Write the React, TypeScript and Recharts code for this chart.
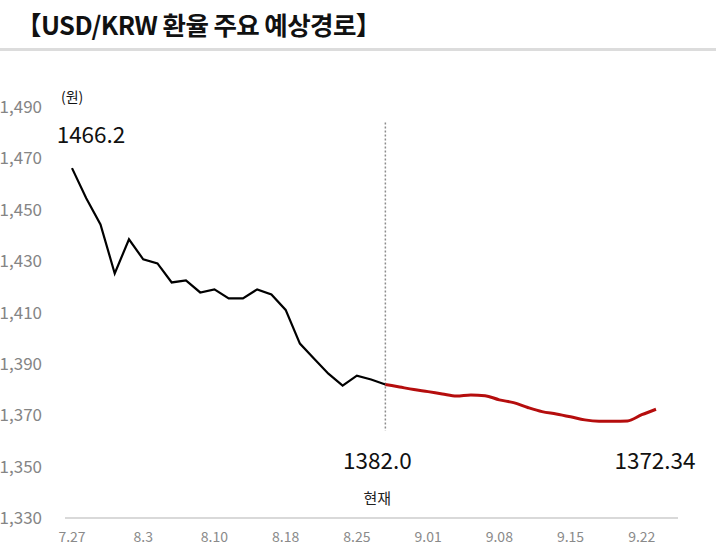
import React from "react";
import {
  LineChart,
  Line,
  XAxis,
  YAxis,
  ReferenceLine,
  ReferenceDot,
} from "recharts";

// business days, ticks every 5th
const dates = [
  "7.27", "7.28", "7.29", "7.30", "7.31",
  "8.3", "8.4", "8.5", "8.6", "8.7",
  "8.10", "8.11", "8.12", "8.13", "8.14",
  "8.18", "8.19", "8.20", "8.21", "8.22",
  "8.25", "8.26", "8.27", "8.28", "8.29",
  "9.01", "9.02", "9.03", "9.04", "9.05",
  "9.08", "9.09", "9.10", "9.11", "9.12",
  "9.15", "9.16", "9.17", "9.18", "9.19",
  "9.22", "9.23",
];
const tickDates = ["7.27", "8.3", "8.10", "8.18", "8.25", "9.01", "9.08", "9.15", "9.22"];
const yTicks = [1330, 1350, 1370, 1390, 1410, 1430, 1450, 1470, 1490];

// 실적 (7.27 ~ 현재)
const actual = [
  1466.2, 1454.5, 1444.3, 1425.2, 1438.5, 1430.7, 1429.1, 1421.7, 1422.5, 1417.8,
  1419.0, 1415.5, 1415.5, 1419.0, 1417.0, 1411.0, 1397.9, 1392.0, 1386.2, 1381.5,
  1385.4, 1383.9, 1382.0,
];
// 예상경로 (현재 ~ 9.23)
const forecast = [
  1382.0, 1381.0, 1380.0, 1379.2, 1378.3, 1377.5, 1377.9, 1377.6, 1376.0, 1374.9,
  1373.0, 1371.4, 1370.5, 1369.4, 1368.2, 1367.7, 1367.7, 1367.8, 1370.2, 1372.34,
];

const nowIndex = actual.length - 1;
const nowDate = dates[nowIndex];
const lastDate = dates[dates.length - 1];

const data = dates.map((d, i) => ({
  date: d,
  actual: i < actual.length ? actual[i] : null,
  forecast: i >= nowIndex ? forecast[i - nowIndex] : null,
}));

const FONT = "'Noto Sans CJK KR', 'Noto Sans', sans-serif";

const fmt = (v: number) => v.toLocaleString("en-US");

export default function App() {
  return (
    <div
      style={{
        position: "absolute",
        left: 0,
        top: 0,
        width: 716,
        height: 557,
        background: "#fff",
        fontFamily: FONT,
      }}
    >
      <div
        style={{
          position: "absolute",
          left: 16,
          top: 5,
          fontSize: 25.5,
          fontWeight: 700,
          letterSpacing: -0.6,
          color: "#111",
          whiteSpace: "nowrap",
        }}
      >
        【USD/KRW 환율 주요 예상경로】
      </div>
      <div
        style={{
          position: "absolute",
          left: 0,
          top: 48,
          width: 716,
          height: 3,
          background: "#dcdcdc",
        }}
      />
      <div
        style={{
          position: "absolute",
          left: 61,
          top: 86,
          fontSize: 14,
          color: "#111",
        }}
      >
        (원)
      </div>
      <LineChart
        width={716}
        height={557}
        data={data}
        margin={{ top: 107, right: 38, bottom: 9, left: 0 }}
        style={{ fontFamily: FONT }}
      >
        <XAxis
          dataKey="date"
          ticks={tickDates}
          interval={0}
          padding={{ left: 7, right: 22 }}
          tickLine={false}
          axisLine={{ stroke: "#d9d9d9", strokeWidth: 2 }}
          tick={{ fill: "#8a8a8a", fontSize: 14 }}
          tickMargin={8}
          height={30}
        />
        <YAxis
          domain={[1330, 1490]}
          ticks={yTicks}
          width={65}
          axisLine={false}
          tickLine={false}
          tickMargin={17}
          tickFormatter={fmt}
          tick={{ fill: "#858585", fontSize: 17 }}
        />
        <ReferenceLine
          segment={[
            { x: nowDate, y: 1484 },
            { x: nowDate, y: 1364 },
          ]}
          stroke="#8c8c8c"
          strokeWidth={1.5}
          strokeDasharray="2 2"
        />
        <Line
          dataKey="actual"
          type="linear"
          stroke="#000"
          strokeWidth={2.2}
          dot={false}
          connectNulls={false}
          isAnimationActive={false}
        />
        <Line
          dataKey="forecast"
          type="monotone"
          stroke="#b50d0d"
          strokeWidth={3}
          dot={false}
          connectNulls={false}
          isAnimationActive={false}
        />
        <ReferenceDot
          x={dates[0]}
          y={1479}
          r={0}
          label={{ value: actual[0].toFixed(1), position: "center", fill: "#111", fontSize: 22.5, dx: 19 }}
        />
        <ReferenceDot
          x={nowDate}
          y={1352.2}
          r={0}
          label={{ value: actual[nowIndex].toFixed(1), position: "center", fill: "#111", fontSize: 22.5, dx: -8 }}
        />
        <ReferenceDot
          x={nowDate}
          y={1337.4}
          r={0}
          label={{ value: "현재", position: "center", fill: "#222", fontSize: 15, dx: -8 }}
        />
        <ReferenceDot
          x={lastDate}
          y={1352.2}
          r={0}
          label={{ value: String(forecast[forecast.length - 1]), position: "center", fill: "#111", fontSize: 22.5, dx: -1 }}
        />
      </LineChart>
    </div>
  );
}
